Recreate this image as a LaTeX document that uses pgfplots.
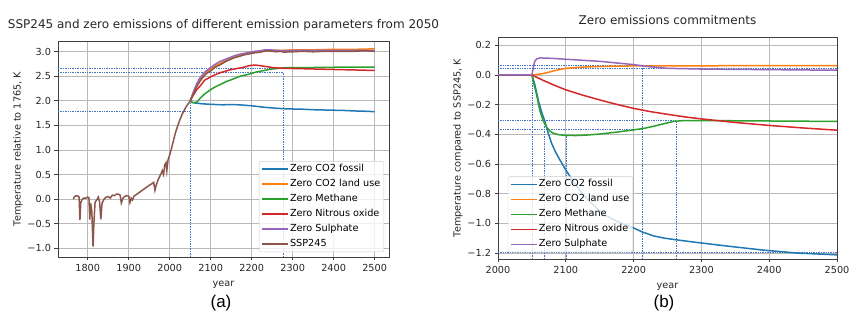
\documentclass[border=0pt]{standalone}
\usepackage{pgfplots}
\pgfplotsset{compat=1.18}
\usepackage{fontspec}
\setmainfont{DejaVu Sans}
\newfontfamily\arialfont{Liberation Sans}
\definecolor{mblue}{HTML}{1F77B4}
\definecolor{morange}{HTML}{FF7F0E}
\definecolor{mgreen}{HTML}{2CA02C}
\definecolor{mred}{HTML}{D62728}
\definecolor{mpurple}{HTML}{9467BD}
\definecolor{mbrown}{HTML}{8C564B}
\definecolor{ann}{HTML}{4472C4}
\definecolor{gridc}{HTML}{B8B8B8}
\definecolor{legc}{HTML}{CCCCCC}
\pgfplotsset{
  mpl/.style={
    scale only axis,
    axis line style={black!75, line width=0.8pt},
    tick align=outside, xtick pos=left, ytick pos=left,
    major tick length=3.5pt,
    tick style={black!75, line width=0.8pt},
    grid=major, grid style={gridc, line width=0.8pt},
    ticklabel style={font=\fontsize{9.7}{11}\selectfont, text=black!85},
    label style={font=\fontsize{9.7}{11}\selectfont, text=black!85},
    xlabel style={yshift=-2.5pt},
    title style={font=\fontsize{12}{14}\selectfont, text=black!85, at={(0.5,1)}, anchor=base, yshift=6pt, inner sep=0pt},
    legend cell align=left,
    legend style={font=\fontsize{9.7}{11}\selectfont, draw=legc, rounded corners=2pt,
      fill=white, fill opacity=0.8, text opacity=1, inner xsep=2pt, inner ysep=1.5pt, row sep=2.5pt,
      nodes={inner sep=1.5pt, text height=7.3pt, text depth=2.2pt}},
  },
}
\tikzset{dotl/.style={ann, line width=0.6pt, dash pattern=on 0.8pt off 0.9pt}}
\begin{document}
\begin{tikzpicture}
\useasboundingbox (0pt,0pt) rectangle (865pt,321pt);
% ---------------- (a) ----------------
\begin{axis}[mpl,
  at={(58pt,64pt)}, anchor=south west, width=331pt, height=216pt,
  xmin=1727.5, xmax=2535, ymin=-1.18, ymax=3.22,
  xtick={1800,1900,2000,2100,2200,2300,2400,2500},
  xticklabels={1800,1900,2000,2100,2200,2300,2400,2500},
  ytick={-1,-0.5,0,0.5,1,1.5,2,2.5,3},
  yticklabels={−1.0,−0.5,0.0,0.5,1.0,1.5,2.0,2.5,3.0},
  xlabel={year}, ylabel={Temperature relative to 1765, K},
  ylabel style={yshift=-2pt},
  title={SSP245 and zero emissions of different emission parameters from 2050},
  legend style={at={(0.985,0.023)}, anchor=south east},
  legend image code/.code={\draw[#1, line width=1.5pt] (0pt,0pt) -- (19pt,0pt); \path (-1pt,0pt) -- (25pt,0pt);},
]
\addplot[dotl, forget plot] coordinates {(1727.5,1.78) (2050,1.78)};
\addplot[dotl, forget plot] coordinates {(1727.5,2.67) (2277,2.67)};
\addplot[dotl, forget plot] coordinates {(1727.5,2.59) (2277,2.59)};
\addplot[dotl, forget plot] coordinates {(2050,-1.18) (2050,2.0)};
\addplot[dotl, forget plot] coordinates {(2277,-1.18) (2277,2.59)};
\addplot[mblue, line width=1.5pt] coordinates {(2050,2.00)(2055,1.97)(2060,1.96)(2070,1.95)(2080,1.94)(2090,1.935)(2100,1.93)(2115,1.925)(2130,1.92)(2150,1.925)(2170,1.92)(2185,1.91)(2200,1.90)(2215,1.885)(2230,1.87)(2245,1.86)(2260,1.85)(2280,1.84)(2300,1.835)(2325,1.83)(2350,1.82)(2375,1.815)(2400,1.81)(2425,1.805)(2450,1.795)(2475,1.79)(2500,1.78)};
\addlegendentry{Zero CO2 fossil}
\addplot[morange, line width=1.5pt] coordinates {(2050,2.00)(2055,2.10)(2060,2.20)(2066,2.32)(2073,2.43)(2085,2.56)(2100,2.65)(2112,2.72)(2125,2.77)(2137,2.82)(2150,2.86)(2162,2.90)(2175,2.93)(2187,2.96)(2200,2.98)(2212,3.00)(2225,3.01)(2237,3.02)(2250,3.03)(2275,3.03)(2300,3.04)(2350,3.04)(2400,3.05)(2450,3.05)(2500,3.06)};
\addlegendentry{Zero CO2 land use}
\addplot[mgreen, line width=1.5pt] coordinates {(2050,2.00)(2055,1.97)(2062,1.96)(2068,1.99)(2075,2.06)(2085,2.14)(2100,2.23)(2112,2.29)(2125,2.34)(2137,2.39)(2150,2.43)(2162,2.47)(2175,2.51)(2187,2.53)(2200,2.56)(2212,2.59)(2225,2.61)(2237,2.63)(2250,2.65)(2262,2.66)(2275,2.67)(2300,2.68)(2350,2.68)(2400,2.685)(2450,2.69)(2500,2.69)};
\addlegendentry{Zero Methane}
\addplot[mred, line width=1.5pt] coordinates {(2050,2.00)(2055,2.08)(2061,2.16)(2066,2.23)(2073,2.29)(2085,2.42)(2098,2.48)(2110,2.53)(2122,2.57)(2134,2.60)(2146,2.63)(2158,2.65)(2171,2.67)(2183,2.69)(2195,2.72)(2208,2.73)(2220,2.72)(2235,2.70)(2250,2.68)(2265,2.67)(2280,2.66)(2300,2.66)(2350,2.65)(2400,2.64)(2450,2.63)(2500,2.62)};
\addlegendentry{Zero Nitrous oxide}
\addplot[mpurple, line width=1.5pt] coordinates {(2050,2.00)(2055,2.12)(2060,2.23)(2065,2.33)(2073,2.46)(2085,2.58)(2098,2.67)(2110,2.74)(2122,2.80)(2134,2.84)(2146,2.88)(2158,2.92)(2171,2.95)(2183,2.97)(2195,2.99)(2208,3.01)(2220,3.02)(2232,3.04)(2245,3.04)(2260,3.03)(2280,3.02)(2300,3.03)(2350,3.03)(2400,3.03)(2450,3.03)(2500,3.03)};
\addlegendentry{Zero Sulphate}
\addplot[mbrown, line width=1.5pt] coordinates {(1765,0.00)(1768,0.05)(1772,0.07)(1776,0.06)(1779,0.04)(1781,-0.43)(1783,-0.08)(1786,-0.01)(1790,0.02)(1795,0.02)(1800,0.04)(1803,0.03)(1805,-0.42)(1807,-0.08)(1810,-0.25)(1813,-0.97)(1815,-0.50)(1818,-0.06)(1822,-0.02)(1826,0.04)(1829,-0.06)(1832,-0.41)(1835,-0.08)(1840,0.00)(1845,0.04)(1850,0.05)(1855,0.02)(1860,0.08)(1865,0.07)(1870,0.10)(1875,0.10)(1879,0.08)(1882,-0.08)(1886,0.02)(1890,0.05)(1895,0.07)(1900,0.06)(1903,-0.07)(1906,0.02)(1909,-0.02)(1913,0.06)(1920,0.10)(1930,0.16)(1940,0.22)(1950,0.28)(1958,0.32)(1961,0.34)(1964,0.18)(1967,0.28)(1972,0.40)(1978,0.50)(1982,0.58)(1985,0.50)(1988,0.70)(1991,0.74)(1993,0.58)(1996,0.80)(2000,0.90)(2005,1.05)(2010,1.22)(2015,1.38)(2020,1.50)(2025,1.62)(2030,1.72)(2035,1.80)(2040,1.88)(2045,1.94)(2050,2.00)(2055,2.09)(2060,2.18)(2066,2.29)(2073,2.39)(2080,2.47)(2090,2.56)(2100,2.61)(2110,2.68)(2122,2.73)(2134,2.79)(2146,2.84)(2158,2.88)(2171,2.91)(2183,2.94)(2195,2.96)(2208,2.98)(2220,2.99)(2230,3.01)(2240,3.02)(2250,3.01)(2260,3.00)(2270,3.01)(2280,2.99)(2290,3.00)(2300,3.00)(2325,3.01)(2350,3.00)(2375,3.01)(2400,3.01)(2425,3.01)(2450,3.01)(2475,3.02)(2500,3.01)};
\addlegendentry{SSP245}
\end{axis}
% ---------------- (b) ----------------
\begin{axis}[mpl,
  at={(498pt,62pt)}, anchor=south west, width=339pt, height=222pt,
  xmin=2000, xmax=2500, ymin=-1.24, ymax=0.256,
  xtick={2000,2100,2200,2300,2400,2500},
  xticklabels={2000,2100,2200,2300,2400,2500},
  ytick={-1.2,-1,-0.8,-0.6,-0.4,-0.2,0,0.2},
  yticklabels={−1.2,−1.0,−0.8,−0.6,−0.4,−0.2,0.0,0.2},
  xlabel={year}, ylabel={Temperature compared to SSP245, K},
  ylabel style={yshift=-2pt},
  title={Zero emissions commitments},
  legend style={at={(0.398,0.03)}, anchor=south east},
  legend image code/.code={\draw[#1, line width=1.5pt] (0pt,0pt) -- (19pt,0pt); \path (-1pt,0pt) -- (25pt,0pt);},
]
\addlegendimage{mblue, line width=1.5pt}
\addlegendentry{Zero CO2 fossil}
\addlegendimage{morange, line width=1.5pt}
\addlegendentry{Zero CO2 land use}
\addlegendimage{mgreen, line width=1.5pt}
\addlegendentry{Zero Methane}
\addlegendimage{mred, line width=1.5pt}
\addlegendentry{Zero Nitrous oxide}
\addlegendimage{mpurple, line width=1.5pt}
\addlegendentry{Zero Sulphate}
\addplot[dotl, forget plot] coordinates {(2000,0.065) (2500,0.065)};
\addplot[dotl, forget plot] coordinates {(2000,0.045) (2500,0.045)};
\addplot[dotl, forget plot] coordinates {(2000,-0.307) (2263,-0.307)};
\addplot[dotl, forget plot] coordinates {(2000,-0.364) (2213,-0.364)};
\addplot[dotl, forget plot] coordinates {(2000,-1.197) (2500,-1.197)};
\addplot[dotl, forget plot] coordinates {(2050,-1.24) (2050,0)};
\addplot[dotl, forget plot] coordinates {(2068,-1.24) (2068,-0.31)};
\addplot[dotl, forget plot] coordinates {(2100,-1.24) (2100,-0.407)};
\addplot[dotl, forget plot] coordinates {(2213,-1.24) (2213,0.065)};
\addplot[dotl, forget plot] coordinates {(2263,-1.24) (2263,-0.307)};
\addplot[mblue, line width=1.5pt, forget plot] coordinates {(2000,0)(2050,0)(2054,-0.06)(2057,-0.12)(2060,-0.18)(2065,-0.26)(2069,-0.31)(2074,-0.39)(2079,-0.46)(2085,-0.52)(2091,-0.57)(2100,-0.64)(2110,-0.71)(2123,-0.79)(2135,-0.85)(2147,-0.905)(2160,-0.95)(2175,-0.985)(2197,-1.025)(2214,-1.06)(2230,-1.085)(2246,-1.10)(2270,-1.115)(2296,-1.13)(2342,-1.155)(2391,-1.18)(2441,-1.20)(2500,-1.212)};
\addplot[morange, line width=1.5pt, forget plot] coordinates {(2000,0)(2050,0)(2060,0.005)(2070,0.013)(2080,0.025)(2090,0.036)(2100,0.045)(2125,0.053)(2150,0.058)(2200,0.061)(2300,0.062)(2400,0.063)(2500,0.063)};
\addplot[mgreen, line width=1.5pt, forget plot] coordinates {(2000,0)(2050,0)(2053,-0.06)(2057,-0.135)(2062,-0.245)(2067,-0.31)(2072,-0.355)(2077,-0.38)(2082,-0.393)(2090,-0.403)(2100,-0.407)(2115,-0.408)(2130,-0.405)(2150,-0.398)(2175,-0.385)(2200,-0.37)(2215,-0.36)(2230,-0.345)(2245,-0.328)(2260,-0.312)(2275,-0.307)(2300,-0.307)(2400,-0.31)(2500,-0.313)};
\addplot[mred, line width=1.5pt, forget plot] coordinates {(2000,0)(2050,0)(2060,-0.022)(2070,-0.043)(2080,-0.063)(2090,-0.082)(2100,-0.10)(2125,-0.136)(2150,-0.168)(2175,-0.198)(2200,-0.225)(2225,-0.247)(2250,-0.265)(2275,-0.282)(2300,-0.296)(2350,-0.32)(2400,-0.34)(2450,-0.357)(2500,-0.372)};
\addplot[mpurple, line width=1.5pt, forget plot] coordinates {(2000,0)(2050,0)(2052,0.05)(2054,0.09)(2057,0.108)(2062,0.115)(2080,0.112)(2100,0.106)(2150,0.092)(2200,0.07)(2225,0.055)(2250,0.045)(2300,0.04)(2400,0.036)(2500,0.032)};
\end{axis}
\node[font=\arialfont\fontsize{17}{20}\selectfont] at (221pt,18pt) {(a)};
\node[font=\arialfont\fontsize{17}{20}\selectfont] at (664pt,18pt) {(b)};
\end{tikzpicture}
\end{document}
